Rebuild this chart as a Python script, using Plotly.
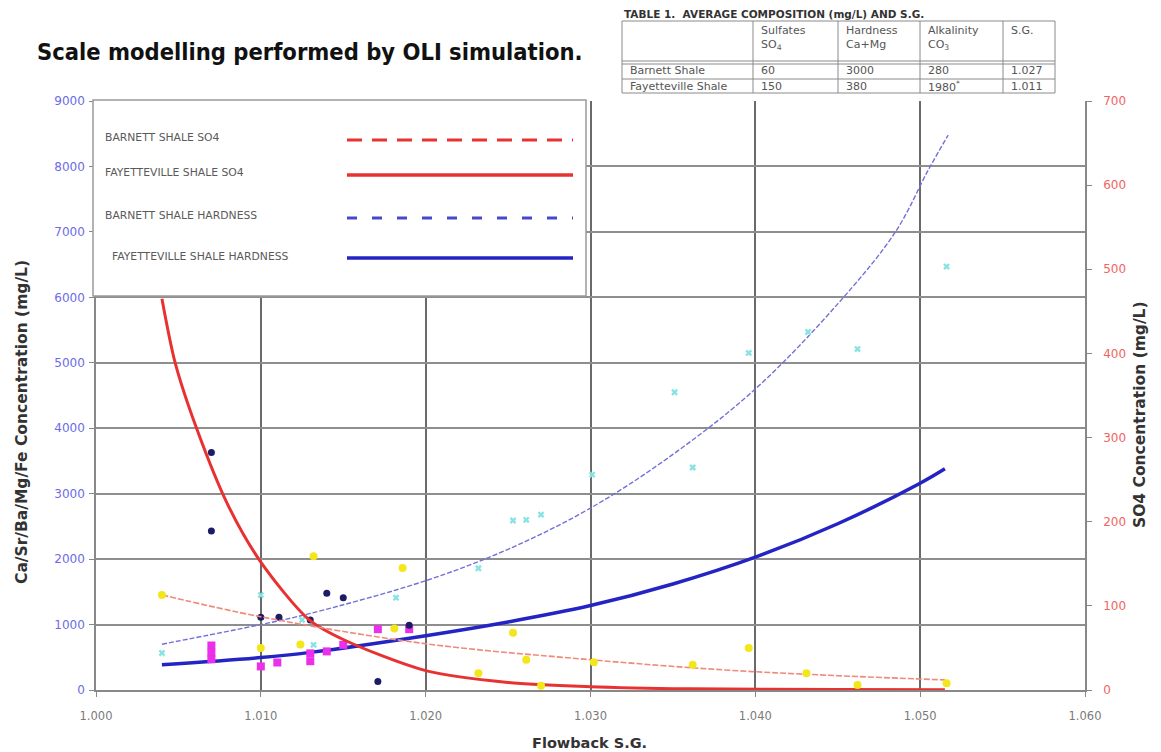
import plotly.graph_objects as go

# ---------------- data ----------------
navy_x = [1.0070, 1.0070, 1.0100, 1.0111, 1.0130, 1.0140, 1.0150, 1.0171, 1.0190]
navy_y = [3630, 2430, 1110, 1110, 1070, 1480, 1410, 130, 990]

magenta_x = [1.0070, 1.0070, 1.0070, 1.0100, 1.0110, 1.0130, 1.0130, 1.0140, 1.0150, 1.0171, 1.0190]
magenta_y = [680, 570, 470, 360, 420, 560, 440, 590, 690, 930, 930]

cyan_x = [1.0040, 1.0100, 1.0125, 1.0132, 1.0182, 1.0232, 1.0253, 1.0261, 1.0270,
          1.0301, 1.0351, 1.0362, 1.0396, 1.0432, 1.0462, 1.0516]
cyan_y = [565, 1450, 1070, 690, 1410, 1860, 2590, 2600, 2680,
          3290, 4550, 3400, 5150, 5470, 5210, 6470]

# SO4 points (right axis)
yellow_x = [1.0040, 1.0100, 1.0124, 1.0132, 1.0181, 1.0186, 1.0232, 1.0253, 1.0261,
            1.0270, 1.0302, 1.0362, 1.0396, 1.0431, 1.0462, 1.0516]
yellow_y = [113, 50, 54, 159, 73, 145, 20, 68, 36, 5, 33, 30, 50, 20, 6, 8]

# model curves
barnett_so4_x = [1.004, 1.010, 1.020, 1.030, 1.038, 1.045, 1.0515]
barnett_so4_y = [113, 87, 55, 36, 24, 17, 12]

fay_so4_x = [1.004, 1.0048, 1.0061, 1.008, 1.010, 1.0129, 1.015, 1.020, 1.025, 1.030, 1.036, 1.045, 1.0515]
fay_so4_y = [465, 389, 311, 220, 152, 84, 60, 23, 9, 4, 1.5, 0.5, 0.2]

barnett_hard_x = [1.004, 1.010, 1.013, 1.020, 1.025, 1.030, 1.035, 1.040, 1.045, 1.0485, 1.0505, 1.0517]
barnett_hard_y = [700, 1000, 1170, 1670, 2150, 2780, 3600, 4600, 5900, 7000, 7950, 8480]

fay_hard_x = [1.004, 1.010, 1.013, 1.020, 1.025, 1.030, 1.035, 1.040, 1.045, 1.050, 1.0515]
fay_hard_y = [385, 495, 575, 830, 1040, 1290, 1620, 2030, 2540, 3160, 3380]

legend_labels = ["BARNETT SHALE SO4", "FAYETTEVILLE SHALE SO4",
                 "BARNETT SHALE HARDNESS", "FAYETTEVILLE SHALE HARDNESS"]

title_text = "Scale modelling performed by OLI simulation."
table_title = "TABLE 1.  AVERAGE COMPOSITION (mg/L) AND S.G."
table_cols_1 = ["Sulfates", "Hardness", "Alkalinity", "S.G."]
table_cols_2 = ["SO<sub>4</sub>", "Ca+Mg", "CO<sub>3</sub>", ""]
table_rows = ["Barnett Shale", "Fayetteville Shale"]
table_vals = [["60", "3000", "280", "1.027"],
              ["150", "380", "1980<sup>*</sup>", "1.011"]]

x_title = "Flowback S.G."
y_title = "Ca/Sr/Ba/Mg/Fe Concentration (mg/L)"
y2_title = "SO4 Concentration (mg/L)"

# ---------------- layout geometry (page pixels) ----------------
W, H = 1161, 752
OFF = 8                      # page body margin
L, R, T, B = 96, 1085, 101, 690


def px(x):
    return (x - L) / (R - L)


def py(y):
    return (B - y) / (B - T)


DJ = "DejaVu Sans, sans-serif"

fig = go.Figure()

RED = "#e83232"
BLUE = "#2424c4"

fig.add_trace(go.Scatter(x=fay_so4_x, y=fay_so4_y, yaxis="y2", mode="lines",
                         line=dict(color=RED, width=3, shape="spline", smoothing=0.8),
                         name="Fayetteville Shale SO4", showlegend=False))
fig.add_trace(go.Scatter(x=barnett_so4_x, y=barnett_so4_y, yaxis="y2", mode="lines",
                         line=dict(color="#ef8a7a", width=1.6, dash="6px,2px", shape="spline"),
                         name="Barnett Shale SO4", showlegend=False))
fig.add_trace(go.Scatter(x=barnett_hard_x, y=barnett_hard_y, mode="lines",
                         line=dict(color="#7070d8", width=1.4, dash="5px,2px", shape="spline"),
                         name="Barnett Shale Hardness", showlegend=False))
fig.add_trace(go.Scatter(x=fay_hard_x, y=fay_hard_y, mode="lines",
                         line=dict(color=BLUE, width=3.5, shape="spline"),
                         name="Fayetteville Shale Hardness", showlegend=False))

fig.add_trace(go.Scatter(x=cyan_x, y=cyan_y, mode="markers",
                         marker=dict(symbol="x", size=6, color="#8ae3e3"),
                         name="cyan", showlegend=False))
fig.add_trace(go.Scatter(x=yellow_x, y=yellow_y, yaxis="y2", mode="markers",
                         marker=dict(symbol="circle", size=8, color="#f3e61a"),
                         name="yellow", showlegend=False))
fig.add_trace(go.Scatter(x=magenta_x, y=magenta_y, mode="markers",
                         marker=dict(symbol="square", size=8, color="#ea30ea"),
                         name="magenta", showlegend=False))
fig.add_trace(go.Scatter(x=navy_x, y=navy_y, mode="markers",
                         marker=dict(symbol="circle", size=7, color="#1c1c66"),
                         name="navy", showlegend=False))

shapes = []
annotations = []

# legend box
shapes.append(dict(type="rect", xref="paper", yref="paper", layer="above",
                   x0=px(93), x1=px(586), y0=py(296), y1=py(100),
                   fillcolor="white", line=dict(color="#9a9a9a", width=1.5)))
leg_text_y = [137, 172, 216, 257]
leg_line_y = [140, 175, 218, 258]
leg_text_x = [103, 103, 103, 110]
leg_styles = [dict(color=RED, width=3, dash="15px,10px"),
              dict(color=RED, width=3.5),
              dict(color="#4848cc", width=3, dash="10px,15px"),
              dict(color=BLUE, width=3.5)]
for lab, ty, ly, tx, st in zip(legend_labels, leg_text_y, leg_line_y, leg_text_x, leg_styles):
    annotations.append(dict(xref="paper", yref="paper", x=px(tx), y=py(ty), xanchor="left",
                            yanchor="middle", text=lab, showarrow=False,
                            font=dict(family=DJ, size=10.8, color="#5a5a5a")))
    shapes.append(dict(type="line", xref="paper", yref="paper", layer="above",
                       x0=px(347), x1=px(573), y0=py(ly), y1=py(ly), line=st))

# title
annotations.append(dict(xref="paper", yref="paper", x=px(35), y=py(52), xanchor="left",
                        yanchor="middle", text="<b>" + title_text + "</b>", showarrow=False,
                        font=dict(family="DejaVu Sans Condensed, DejaVu Sans, sans-serif",
                                  size=23.5, color="#111")))

# table
tx0, tx1 = 622, 1055
col_x = [753, 838, 920, 1003]
t_top, t_bot = 21, 93
shapes.append(dict(type="rect", xref="paper", yref="paper", x0=px(tx0), x1=px(tx1),
                   y0=py(t_bot), y1=py(t_top), line=dict(color="#8a8a8a", width=1)))
for cx in col_x:
    shapes.append(dict(type="line", xref="paper", yref="paper", x0=px(cx), x1=px(cx),
                       y0=py(t_bot), y1=py(t_top), line=dict(color="#8a8a8a", width=1)))
for ry in [61, 64, 79]:
    shapes.append(dict(type="line", xref="paper", yref="paper", x0=px(tx0), x1=px(tx1),
                       y0=py(ry), y1=py(ry), line=dict(color="#8a8a8a", width=1)))
annotations.append(dict(xref="paper", yref="paper", x=px(622), y=py(14), xanchor="left",
                        yanchor="middle", text="<b>" + table_title + "</b>", showarrow=False,
                        font=dict(family=DJ, size=10.5, color="#333")))
TF = dict(family=DJ, size=11, color="#555")
for cx, c1, c2 in zip(col_x, table_cols_1, table_cols_2):
    annotations.append(dict(xref="paper", yref="paper", x=px(cx + 6), y=py(30), xanchor="left",
                            yanchor="middle", text=c1, showarrow=False, font=TF))
    if c2:
        annotations.append(dict(xref="paper", yref="paper", x=px(cx + 6), y=py(45), xanchor="left",
                                yanchor="middle", text=c2, showarrow=False, font=TF))
row_y = [71, 86]
for ry, rl, vals in zip(row_y, table_rows, table_vals):
    annotations.append(dict(xref="paper", yref="paper", x=px(628), y=py(ry), xanchor="left",
                            yanchor="middle", text=rl, showarrow=False, font=TF))
    for cx, v in zip(col_x, vals):
        annotations.append(dict(xref="paper", yref="paper", x=px(cx + 6), y=py(ry), xanchor="left",
                                yanchor="middle", text=v, showarrow=False, font=TF))

# axis titles
annotations.append(dict(xref="paper", yref="paper", x=px(22), y=py(422), xanchor="center",
                        yanchor="middle", textangle=-90, text="<b>" + y_title + "</b>",
                        showarrow=False, font=dict(family=DJ, size=15.5, color="#333")))
annotations.append(dict(xref="paper", yref="paper", x=px(1140), y=py(415), xanchor="center",
                        yanchor="middle", textangle=-90, text="<b>" + y2_title + "</b>",
                        showarrow=False, font=dict(family=DJ, size=15.5, color="#333")))
annotations.append(dict(xref="paper", yref="paper", x=px(589), y=py(743), xanchor="center",
                        yanchor="middle", text="<b>" + x_title + "</b>",
                        showarrow=False, font=dict(family=DJ, size=14.5, color="#333")))

fig.update_layout(
    width=W - OFF, height=H - OFF,
    margin=dict(l=L - OFF, r=W - R, t=T - OFF, b=H - B, pad=0, autoexpand=False),
    paper_bgcolor="white", plot_bgcolor="white",
    showlegend=False,
    shapes=shapes, annotations=annotations,
    xaxis=dict(range=[1.0, 1.06], dtick=0.01, tick0=1.0, tickformat=".3f",
               showgrid=True, gridcolor="#6a6a6a", gridwidth=1.5, zeroline=False,
               showline=True, linecolor="#888", linewidth=1.5,
               ticks="outside", ticklen=5, tickcolor="#888", ticklabelstandoff=9,
               tickfont=dict(family=DJ, size=11.5, color="#7a7a7a")),
    yaxis=dict(range=[0, 9000], dtick=1000, tickformat="d",
               showgrid=True, gridcolor="#8e8e8e", gridwidth=2, zeroline=False,
               showline=True, linecolor="#888", linewidth=1.5,
               ticks="outside", ticklen=5, tickcolor="#888", ticklabelstandoff=2,
               tickfont=dict(family=DJ, size=12, color="#6b6be6")),
    yaxis2=dict(range=[0, 700], dtick=100, overlaying="y", side="right",
                showgrid=False, zeroline=False,
                showline=True, linecolor="#888", linewidth=1.5,
                ticks="outside", ticklen=5, tickcolor="#888", ticklabelstandoff=9,
                tickfont=dict(family=DJ, size=12, color="#f06464")),
)

fig.write_html("out.html")
